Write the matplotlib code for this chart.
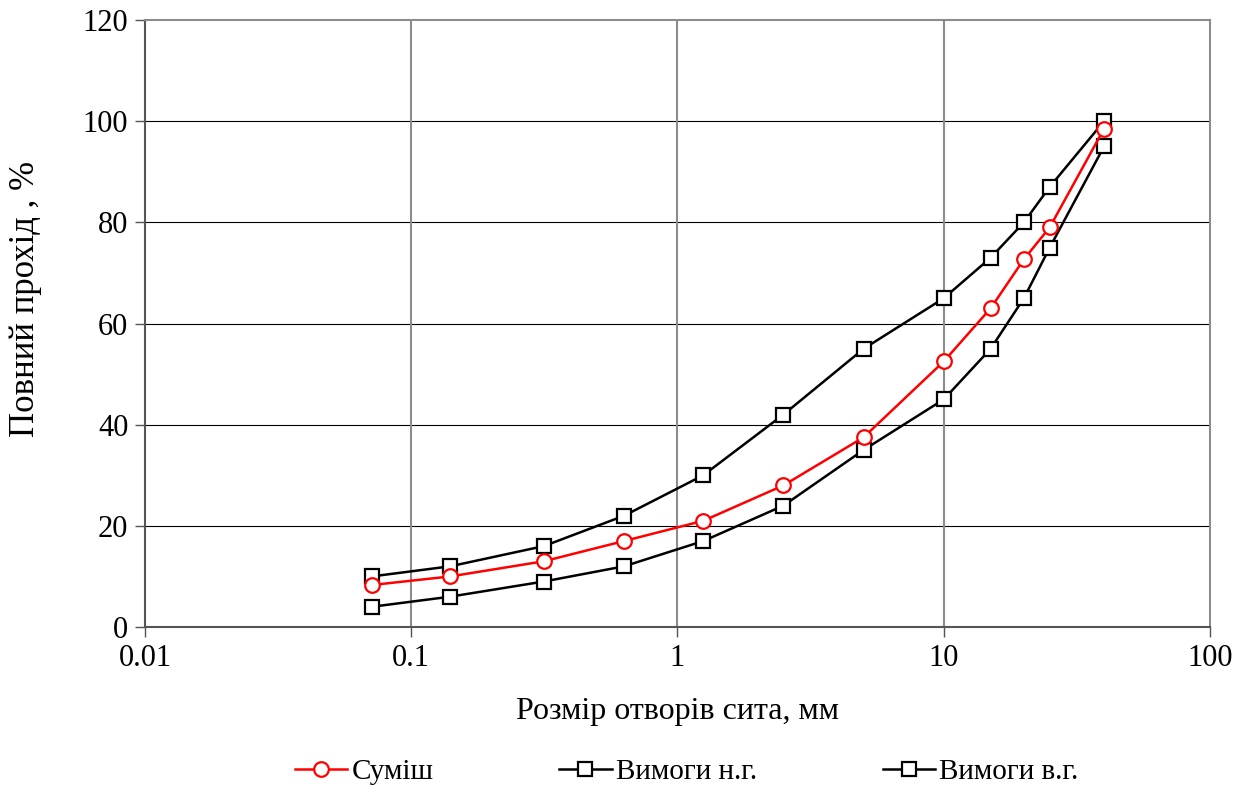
import matplotlib.pyplot as plt
from matplotlib.ticker import FixedLocator, FixedFormatter, NullLocator

plt.rcParams['font.family'] = ['Liberation Serif', 'DejaVu Serif']

sieve = [0.071, 0.14, 0.315, 0.63, 1.25, 2.5, 5, 10, 15, 20, 25, 40]
mix = [8.3, 10, 13, 17, 21, 28, 37.5, 52.5, 63, 72.7, 79, 98.5]
lower = [4, 6, 9, 12, 17, 24, 35, 45, 55, 65, 75, 95]
upper = [10, 12, 16, 22, 30, 42, 55, 65, 73, 80, 87, 100]

x_ticks = [0.01, 0.1, 1, 10, 100]
x_labels = ["0.01", "0.1", "1", "10", "100"]
y_ticks = [0, 20, 40, 60, 80, 100, 120]


def main():
    fig = plt.figure(figsize=(12.51, 7.92), dpi=100)
    ax = fig.add_axes([0.1159, 0.2083, 0.8513, 0.7664])

    ax.plot(sieve, mix, color="red", lw=1.8, marker="o", ms=10.5,
            mfc="white", mec="red", mew=1.6, label="Суміш", zorder=4)
    ax.plot(sieve, lower, color="black", lw=1.8, marker="s", ms=9.5,
            mfc="white", mec="black", mew=1.6, label="Вимоги н.г.", zorder=3)
    ax.plot(sieve, upper, color="black", lw=1.8, marker="s", ms=9.5,
            mfc="white", mec="black", mew=1.6, label="Вимоги в.г.", zorder=3)

    ax.set_xscale("log")
    ax.set_xlim(0.01, 100)
    ax.set_ylim(0, 120)
    ax.xaxis.set_major_locator(FixedLocator(x_ticks))
    ax.xaxis.set_major_formatter(FixedFormatter(x_labels))
    ax.xaxis.set_minor_locator(NullLocator())
    ax.set_yticks(y_ticks)

    for v in y_ticks[1:-1]:
        ax.axhline(v, color="black", lw=0.8, zorder=1)
    for v in x_ticks[1:-1]:
        ax.axvline(v, color="#8c8c8c", lw=1.5, zorder=1)

    for side in ["top", "right"]:
        ax.spines[side].set_color("#8c8c8c")
        ax.spines[side].set_linewidth(1.5)
    for side in ["left", "bottom"]:
        ax.spines[side].set_color("#555555")
        ax.spines[side].set_linewidth(1.5)

    ax.tick_params(axis="both", direction="out", length=7, width=1,
                   color="#555555", labelsize=22, pad=5)
    ax.set_xlabel("Розмір отворів сита, мм", fontsize=23)
    ax.xaxis.set_label_coords(0.5, -0.115)
    ax.set_ylabel("Повний прохід , %", fontsize=25)
    ax.yaxis.set_label_coords(-0.097, 0.54)

    fig.legend(loc="center", bbox_to_anchor=(0.549, 0.025), ncol=3,
               frameon=False, fontsize=21, handlelength=1.8,
               handletextpad=0.15, columnspacing=4.3)

    fig.savefig("out.png", dpi=100)


if __name__ == "__main__":
    main()
